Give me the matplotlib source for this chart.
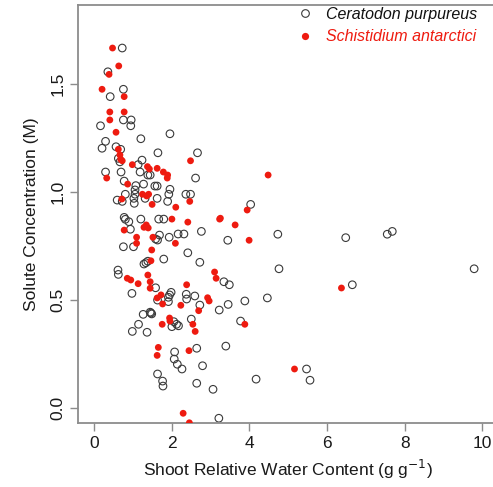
import matplotlib
matplotlib.use("Agg")
import matplotlib.pyplot as plt
from matplotlib.lines import Line2D

# Ceratodon purpureus (open circles)
cer_x = [0.72, 0.35, 0.75, 0.41, 0.75, 0.95, 0.16, 0.94, 1.20, 1.95, 0.29, 0.20, 0.56, 0.68,
         1.64, 0.62, 1.23, 2.66, 1.13, 0.66, 0.29, 0.69, 1.18, 1.38, 1.44, 2.61, 0.77, 1.07,
         1.27, 1.56, 1.62, 1.95, 1.05, 0.80, 1.05, 1.92, 2.36, 2.48, 0.59, 1.02, 1.31, 1.62,
         1.89, 0.72, 1.03, 0.77, 0.80, 0.89, 1.20, 1.66, 1.79, 0.93, 2.76, 2.16, 2.31, 1.68,
         1.58, 1.63, 1.93, 0.75, 1.01, 2.41, 1.79, 1.28, 1.33, 1.38, 0.61, 0.62, 1.58, 1.98,
         1.94, 2.37, 2.59, 1.91, 0.97, 1.63, 1.91, 2.38, 2.72, 1.26, 1.44, 1.46, 1.48, 2.05,
         2.12, 2.17, 2.00, 1.14, 0.98, 1.36, 2.64, 2.07, 2.06, 2.14, 2.26, 2.79, 1.63, 1.76,
         1.77, 2.64, 3.21, 3.06, 4.17, 5.56, 4.03, 3.44, 4.73, 2.72, 3.34, 3.48, 4.76, 3.22,
         3.45, 3.88, 4.46, 3.77, 2.50, 3.39, 5.47, 6.48, 7.55, 7.68, 9.79, 6.65]
cer_y = [1.668, 1.558, 1.477, 1.443, 1.335, 1.335, 1.308, 1.308, 1.248, 1.271, 1.236, 1.204,
         1.211, 1.199, 1.183, 1.157, 1.149, 1.183, 1.128, 1.141, 1.094, 1.094, 1.094, 1.080,
         1.080, 1.066, 1.052, 1.031, 1.038, 1.029, 1.029, 1.014, 1.011, 0.991, 0.991, 0.991,
         0.991, 0.991, 0.964, 0.972, 0.972, 0.972, 0.958, 0.958, 0.949, 0.884, 0.875, 0.864,
         0.876, 0.876, 0.876, 0.829, 0.819, 0.807, 0.807, 0.802, 0.784, 0.779, 0.792, 0.748,
         0.748, 0.720, 0.691, 0.668, 0.674, 0.681, 0.640, 0.620, 0.558, 0.537, 0.525, 0.528,
         0.520, 0.514, 0.532, 0.501, 0.494, 0.506, 0.478, 0.435, 0.445, 0.441, 0.437, 0.401,
         0.389, 0.382, 0.378, 0.389, 0.356, 0.352, 0.278, 0.261, 0.228, 0.204, 0.182, 0.197,
         0.159, 0.126, 0.103, 0.116, -0.046, 0.088, 0.135, 0.130, 0.944, 0.778, 0.806, 0.676,
         0.586, 0.572, 0.646, 0.455, 0.481, 0.497, 0.511, 0.404, 0.413, 0.288, 0.182, 0.790,
         0.806, 0.819, 0.646, 0.572]

# Schistidium antarctici (filled red)
sch_x = [0.47, 0.63, 0.38, 0.20, 0.77, 0.40, 0.77, 0.40, 0.56, 0.62, 0.66, 0.68, 0.72, 2.48,
         0.98, 1.37, 1.62, 1.42, 0.32, 1.78, 1.89, 1.88, 0.86, 1.24, 1.35, 1.40, 0.71, 2.46,
         1.49, 2.10, 2.00, 2.41, 1.34, 1.28, 1.39, 0.77, 1.51, 1.09, 1.09, 2.09, 1.48, 1.46,
         1.38, 0.85, 0.94, 1.44, 1.13, 2.38, 1.44, 1.72, 1.62, 1.76, 2.23, 2.69, 1.94, 1.95,
         1.75, 2.54, 2.60, 1.65, 1.62, 2.44, 2.29, 2.45, 4.48, 3.94, 3.23, 3.25, 3.63, 3.99,
         3.10, 3.14, 2.92, 2.96, 3.88, 5.16, 6.37]
sch_y = [1.668, 1.585, 1.546, 1.477, 1.443, 1.372, 1.372, 1.335, 1.278, 1.199, 1.173, 1.153,
         1.146, 1.146, 1.128, 1.119, 1.111, 1.108, 1.066, 1.094, 1.080, 1.066, 1.038, 0.991,
         0.983, 0.991, 0.969, 0.958, 0.944, 0.931, 0.876, 0.862, 0.849, 0.838, 0.835, 0.825,
         0.792, 0.792, 0.764, 0.764, 0.733, 0.683, 0.617, 0.602, 0.594, 0.586, 0.577, 0.572,
         0.556, 0.525, 0.511, 0.483, 0.477, 0.452, 0.418, 0.404, 0.389, 0.389, 0.356, 0.282,
         0.245, 0.267, -0.023, -0.067, 1.080, 0.918, 0.876, 0.880, 0.849, 0.778, 0.631, 0.602,
         0.512, 0.497, 0.389, 0.182, 0.557]

x_ticks = [0, 2, 4, 6, 8, 10]
y_ticks = [0.0, 0.5, 1.0, 1.5]
y_tick_labels = ["0.0", "0.5", "1.0", "1.5"]
labels = ["Ceratodon purpureus", "Schistidium antarctici"]

RED = "#ee1b10"
plt.rcParams['font.family'] = ['Liberation Sans', 'DejaVu Sans']

W, H = 493, 487
fig = plt.figure(figsize=(W / 100, H / 100), dpi=100)
ax_left, ax_bottom_px, ax_top_px = 78, 423, 4.5
xlim = (-0.42, 10.4)
ylim = (-0.068, 1.8695)
ax_w_px = (xlim[1] - xlim[0]) * 38.8
ax = fig.add_axes([ax_left / W, (H - ax_bottom_px) / H, ax_w_px / W, (ax_bottom_px - ax_top_px) / H])

ax.scatter(cer_x, cer_y, s=30, facecolors='none', edgecolors='#3a3a3a', linewidths=0.8, zorder=2)
ax.scatter(sch_x, sch_y, s=24, facecolors=RED, edgecolors='none', zorder=3)

ax.set_xlim(*xlim)
ax.set_ylim(*ylim)
ax.set_xticks(x_ticks)
ax.set_yticks(y_ticks)
ax.set_yticklabels(y_tick_labels, rotation=90, va='center')

for sp in ax.spines.values():
    sp.set_color('#8c8c8c')
    sp.set_linewidth(1.3)
ax.spines['right'].set_visible(False)
ax.tick_params(axis='both', length=6, width=1.0, color='#8c8c8c', labelsize=12.5,
               labelcolor='#1a1a1a', pad=3)

ax.set_xlabel("Shoot Relative Water Content (g g$^{-1}$)", fontsize=12.5, color='#1a1a1a', labelpad=5)
ax.set_ylabel("Solute Concentration (M)", fontsize=12.5, color='#1a1a1a', labelpad=8)

handles = [Line2D([], [], ls='none', marker='o', markersize=5.5, markerfacecolor='none',
                  markeredgecolor='#3a3a3a', markeredgewidth=0.8),
           Line2D([], [], ls='none', marker='o', markersize=5.2, markerfacecolor=RED,
                  markeredgecolor='none')]
leg = fig.legend(handles, labels, loc='upper left', bbox_to_anchor=(297 / W, 1 - 7 / H),
                 bbox_transform=fig.transFigure, frameon=False, fontsize=11.5,
                 handlelength=1.0, handletextpad=0.8, labelspacing=0.45,
                 borderpad=0, borderaxespad=0)
for t, c in zip(leg.get_texts(), ['#111111', RED]):
    t.set_color(c)
    t.set_fontstyle('italic')

fig.savefig("out.png", dpi=100)
